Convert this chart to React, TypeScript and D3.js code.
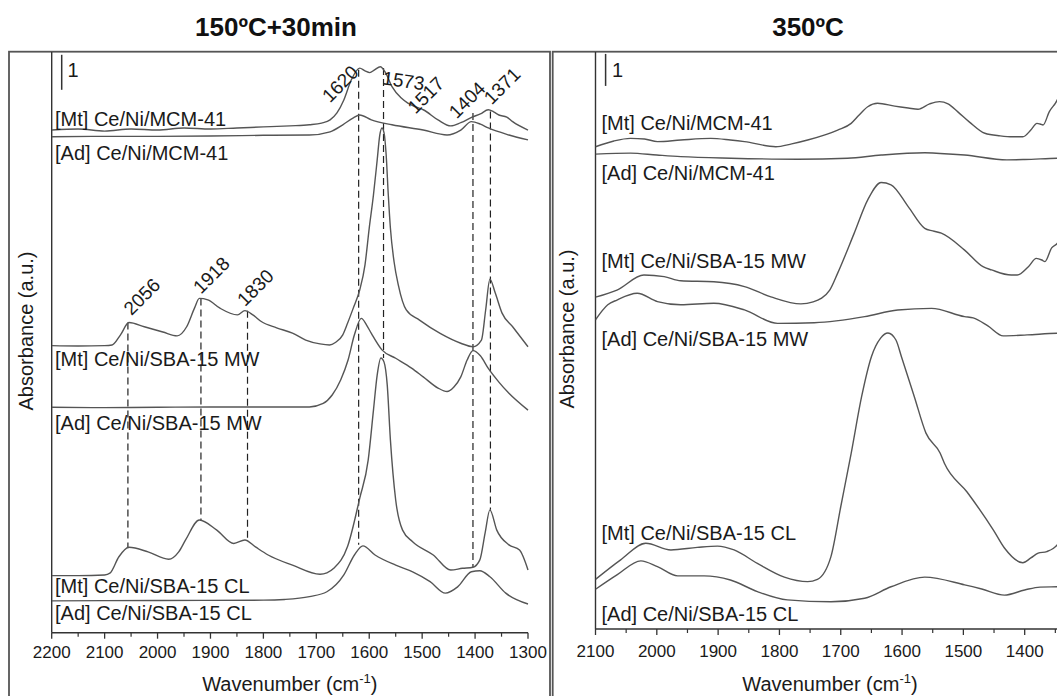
import React from 'react';
import * as d3 from 'd3';

type P = [number, number];

// ---------- titles / labels ----------
const leftTitle = '150ºC+30min';
const rightTitle = '350ºC';
const sampleLabels = [
  '[Mt] Ce/Ni/MCM-41',
  '[Ad] Ce/Ni/MCM-41',
  '[Mt] Ce/Ni/SBA-15 MW',
  '[Ad] Ce/Ni/SBA-15 MW',
  '[Mt] Ce/Ni/SBA-15 CL',
  '[Ad] Ce/Ni/SBA-15 CL',
];
const leftTicks = [2200, 2100, 2000, 1900, 1800, 1700, 1600, 1500, 1400, 1300];
const rightTicks = [2100, 2000, 1900, 1800, 1700, 1600, 1500, 1400];

// ---------- left panel (150ºC+30min): [wavenumber, absorbance offset a.u.] ----------
const leftMtMCM: P[] = [
  [2200, 14.36], [2150, 14.39], [2100, 14.33], [2050, 14.39], [2000, 14.36], [1950, 14.42],
  [1900, 14.39], [1850, 14.42], [1800, 14.45], [1750, 14.48], [1713, 14.51], [1690, 14.56],
  [1674, 14.65], [1661, 14.85], [1648, 15.22], [1634, 15.79], [1618, 16.13], [1608, 16.05],
  [1599, 16.0], [1590, 16.08], [1579, 16.17], [1570, 16.02], [1557, 15.6], [1540, 15.28],
  [1527, 15.13], [1512, 15.02], [1498, 14.94], [1470, 14.65], [1446, 14.48], [1427, 14.57],
  [1404, 14.74], [1390, 14.82], [1375, 14.94], [1365, 14.88], [1355, 14.79], [1340, 14.73],
  [1329, 14.6], [1300, 14.36],
];
const leftAdMCM: P[] = [
  [2200, 14.17], [2100, 14.18], [2000, 14.18], [1900, 14.19], [1800, 14.21], [1713, 14.22],
  [1674, 14.31], [1650, 14.51], [1630, 14.71], [1618, 14.79], [1596, 14.65], [1557, 14.51],
  [1498, 14.36], [1453, 14.22], [1427, 14.36], [1407, 14.6], [1390, 14.53], [1375, 14.42],
  [1336, 14.22], [1300, 14.08],
];
const leftMtMW: P[] = [
  [2200, 8.2], [2150, 8.19], [2100, 8.2], [2086, 8.22], [2070, 8.51], [2054, 8.86], [2025, 8.74],
  [1990, 8.59], [1963, 8.48], [1945, 8.74], [1930, 9.28], [1921, 9.55], [1905, 9.51], [1882, 9.27],
  [1849, 9.08], [1835, 9.2], [1820, 9.08], [1804, 8.89], [1775, 8.71], [1745, 8.56], [1720, 8.36],
  [1693, 8.25], [1675, 8.22], [1664, 8.29], [1650, 8.51], [1641, 8.84], [1630, 9.28], [1618, 9.79],
  [1608, 10.51], [1600, 11.56], [1592, 12.51], [1585, 13.5], [1580, 14.22], [1576, 14.42],
  [1572, 14.28], [1568, 13.65], [1564, 12.51], [1560, 11.56], [1553, 10.59], [1545, 9.93],
  [1530, 9.22], [1505, 8.93], [1466, 8.55], [1427, 8.27], [1404, 8.17], [1388, 8.36],
  [1380, 9.22], [1372, 10.1], [1362, 9.71], [1349, 9.13], [1329, 8.74], [1300, 8.17],
];
const leftAdMW: P[] = [
  [2200, 6.44], [2100, 6.43], [2000, 6.44], [1900, 6.45], [1800, 6.45], [1713, 6.45], [1687, 6.55],
  [1670, 6.79], [1654, 7.22], [1640, 7.79], [1628, 8.51], [1615, 8.98], [1605, 8.79], [1596, 8.55],
  [1576, 8.08], [1550, 7.84], [1520, 7.56], [1498, 7.31], [1470, 6.99], [1453, 6.89], [1440, 7.02],
  [1427, 7.31], [1415, 7.79], [1404, 8.06], [1390, 7.91], [1375, 7.55], [1355, 7.16], [1336, 6.84],
  [1300, 6.36],
];
const leftMtCL: P[] = [
  [2200, 1.63], [2150, 1.63], [2100, 1.65], [2090, 1.7], [2073, 2.17], [2054, 2.44], [2018, 2.31],
  [1979, 2.1], [1960, 2.31], [1947, 2.65], [1921, 3.22], [1888, 2.93], [1856, 2.55], [1835, 2.65],
  [1815, 2.45], [1791, 2.22], [1745, 1.93], [1693, 1.67], [1680, 1.71], [1667, 1.84], [1641, 2.46],
  [1618, 3.84], [1602, 4.93], [1592, 6.36], [1585, 7.36], [1578, 7.85], [1572, 7.73], [1566, 7.08],
  [1560, 5.51], [1550, 3.79], [1537, 2.93], [1518, 2.6], [1479, 2.22], [1446, 1.79], [1424, 1.84],
  [1404, 1.87], [1391, 2.08], [1381, 2.85], [1372, 3.51], [1359, 2.93], [1336, 2.51], [1316, 2.36],
  [1300, 1.79],
];
const leftAdCL: P[] = [
  [2200, 0.91], [2000, 0.92], [1800, 0.93], [1760, 0.95], [1713, 1.03], [1680, 1.17], [1648, 1.65],
  [1628, 2.22], [1612, 2.48], [1589, 2.22], [1550, 1.93], [1518, 1.74], [1485, 1.46], [1456, 1.13],
  [1433, 1.31], [1407, 1.74], [1391, 1.77], [1372, 1.6], [1342, 1.13], [1300, 0.82],
];

// dashed peak markers: wavenumber, top & bottom (a.u.)
const peakWave = [2056, 1918, 1830, 1620, 1573, 1404, 1371];
const peakTop = [8.86, 9.55, 9.2, 16.08, 16.13, 14.85, 14.89];
const peakBottom = [2.41, 3.22, 2.65, 2.51, 7.85, 1.88, 3.51];
// annotation labels
const annWave = [2056, 1918, 1830, 1620, 1573, 1517, 1404, 1371];
const annLevel = [8.86, 9.55, 9.2, 16.08, 16.13, 15.09, 14.85, 14.89];

// ---------- right panel (350ºC) ----------
const rightMtMCM: P[] = [
  [2100, 15.07], [2070, 15.25], [2043, 15.33], [2020, 15.31], [1999, 15.23], [1961, 15.28],
  [1912, 15.33], [1880, 15.28], [1857, 15.23], [1806, 15.07], [1780, 15.16], [1754, 15.28],
  [1705, 15.59], [1683, 15.8], [1670, 16.06], [1656, 16.32], [1640, 16.43], [1612, 16.34],
  [1590, 16.28], [1574, 16.24], [1555, 16.41], [1539, 16.48], [1525, 16.41], [1509, 16.16],
  [1490, 15.84], [1465, 15.49], [1440, 15.41], [1420, 15.38], [1403, 15.38], [1390, 15.59],
  [1380, 15.8], [1375, 15.78], [1370, 15.75], [1360, 16.16], [1347, 16.53], [1335, 17.16],
  [1320, 17.94],
];
const rightAdMCM: P[] = [
  [2100, 14.84], [2043, 14.87], [2000, 14.81], [1961, 14.76], [1879, 14.71], [1770, 14.68],
  [1689, 14.71], [1634, 14.81], [1563, 14.88], [1538, 14.86], [1498, 14.81], [1429, 14.66],
  [1400, 14.67], [1347, 14.71], [1300, 14.72],
];
const rightMtMW: P[] = [
  [2100, 10.37], [2065, 10.59], [2021, 11.06], [1988, 11.01], [1961, 10.88], [1907, 10.85],
  [1857, 10.7], [1814, 10.38], [1765, 10.16], [1745, 10.22], [1732, 10.33], [1718, 10.59],
  [1705, 11.12], [1678, 12.37], [1656, 13.41], [1634, 13.95], [1618, 13.88], [1590, 13.2],
  [1563, 12.52], [1550, 12.44], [1536, 12.37], [1498, 11.84], [1468, 11.32], [1454, 11.22],
  [1422, 11.06], [1412, 11.06], [1394, 11.32], [1381, 11.58], [1372, 11.53], [1367, 11.48],
  [1356, 11.91], [1347, 12.05], [1335, 12.53], [1320, 13.25],
];
const rightAdMW: P[] = [
  [2100, 9.66], [2080, 10.13], [2065, 10.28], [2032, 10.49], [1999, 10.23], [1961, 10.13],
  [1907, 10.18], [1857, 9.97], [1803, 9.55], [1743, 9.57], [1661, 9.76], [1607, 9.97],
  [1552, 10.02], [1498, 9.76], [1484, 9.72], [1460, 9.47], [1435, 9.16], [1396, 9.19],
  [1347, 9.24], [1300, 9.25],
];
const rightMtCL: P[] = [
  [2100, 1.55], [2059, 2.16], [2018, 2.68], [1977, 2.47], [1934, 2.55], [1901, 2.59],
  [1874, 2.47], [1836, 2.05], [1792, 1.62], [1754, 1.48], [1738, 1.55], [1716, 2.26],
  [1700, 3.82], [1683, 5.49], [1666, 7.26], [1650, 8.51], [1635, 9.09], [1623, 9.25],
  [1610, 9.03], [1601, 8.51], [1580, 7.26], [1561, 6.12], [1538, 5.5], [1531, 5.18],
  [1494, 4.28], [1451, 3.09], [1433, 2.53], [1403, 2.07], [1390, 2.22], [1378, 2.37],
  [1364, 2.42], [1347, 2.63], [1330, 3.25], [1310, 4.03],
];
const rightAdCL: P[] = [
  [2100, 1.24], [2065, 1.69], [2026, 2.13], [1999, 1.95], [1966, 1.66], [1923, 1.66],
  [1880, 1.53], [1836, 1.17], [1787, 0.91], [1716, 0.85], [1661, 0.96], [1618, 1.32],
  [1563, 1.62], [1498, 1.38], [1470, 1.25], [1433, 1.06], [1400, 1.22], [1375, 1.31],
  [1347, 1.32], [1300, 1.34],
];

// ---------- layout ----------
const W = 1057;
const H = 696;
const FONT = "'Liberation Sans', Arial, Helvetica, sans-serif";
const LINE = '#555';
const TXT = '#1a1a1a';

const xL = d3.scaleLinear().domain([2200, 1300]).range([51.7, 528]);
const yL = d3.scaleLinear().domain([0, 16.59]).range([632.7, 52]);
const xR = d3.scaleLinear().domain([2100, 1300]).range([595.5, 1086]);
const yR = d3.scaleLinear().domain([0, 18.03]).range([629, 52]);

const leftSeries = [leftMtMCM, leftAdMCM, leftMtMW, leftAdMW, leftMtCL, leftAdCL];
const rightSeries = [rightMtMCM, rightAdMCM, rightMtMW, rightAdMW, rightMtCL, rightAdCL];
const leftLabelY = [126, 160, 366, 430, 593, 620];
const rightLabelY = [130, 180, 268, 346, 540, 621];
// annotation offsets (px) relative to marker top, and rotation
const annDx = [13.8, 10.4, 7.8, -18.5, 20, 12.7, -6, 11.6];
const annDy = [-26, -23.3, -23.2, 14, 12.5, -9.5, -13, -25.7];
const annRot = [-45, -45, -45, -45, 8, -45, -45, -45];

function pathOf(data: P[], x: d3.ScaleLinear<number, number>, y: d3.ScaleLinear<number, number>) {
  const sorted = [...data].sort((a, b) => b[0] - a[0]);
  const gen = d3
    .line<P>()
    .x((d) => x(d[0]))
    .y((d) => y(d[1]))
    .curve(d3.curveMonotoneX);
  return gen(sorted) || '';
}

function Axis({ x, y0, ticks, labelDy, maxX }: { x: d3.ScaleLinear<number, number>; y0: number; ticks: number[]; labelDy: number; maxX: number }) {
  const dom = x.domain();
  const minor: number[] = [];
  for (let t = dom[0] - 50; t > dom[1]; t -= 100) minor.push(t);
  return (
    <g>
      <line x1={x(dom[0])} x2={Math.min(x(dom[1]), maxX)} y1={y0} y2={y0} stroke="#333" strokeWidth={1.4} />
      {ticks.map((t) => (
        <g key={t}>
          <line x1={x(t)} x2={x(t)} y1={y0} y2={y0 + 6} stroke="#333" strokeWidth={1.3} />
          <text x={x(t)} y={y0 + labelDy} textAnchor="middle" fontSize={17} fontFamily={FONT} fill={TXT}>
            {t}
          </text>
        </g>
      ))}
      {x(dom[1]) <= maxX ? null : null}
      {minor.map((t) => (
        <line key={'m' + t} x1={x(t)} x2={x(t)} y1={y0} y2={y0 + 4} stroke="#333" strokeWidth={1.2} />
      ))}
    </g>
  );
}

export default function App() {
  const yl0 = yL(0);
  const yr0 = yR(0);
  return (
    <svg
      width={W}
      height={H}
      viewBox={`0 0 ${W} ${H}`}
      style={{ position: 'fixed', left: 0, top: 0, background: '#fff' }}
    >
      <defs>
        <clipPath id="clipL">
          <rect x={xL(2200)} y={yL(16.59)} width={xL(1300) - xL(2200) + 2} height={yl0 - yL(16.59)} />
        </clipPath>
        <clipPath id="clipR">
          <rect x={xR(2100)} y={yR(18.03)} width={xR(1300) - xR(2100)} height={yr0 - yR(18.03)} />
        </clipPath>
      </defs>
      <rect x={0} y={0} width={W} height={H} fill="#fff" />

      {/* titles */}
      <text x={276} y={36} textAnchor="middle" fontSize={26} fontWeight="bold" fontFamily={FONT} fill="#111">
        {leftTitle}
      </text>
      <text x={808} y={36} textAnchor="middle" fontSize={26} fontWeight="bold" fontFamily={FONT} fill="#111">
        {rightTitle}
      </text>

      {/* panel frames */}
      <rect x={9} y={51.7} width={541} height={700} fill="none" stroke="#555" strokeWidth={1.8} />
      <rect x={552.7} y={51.7} width={600} height={700} fill="none" stroke="#555" strokeWidth={1.8} />

      {/* ---------------- left panel ---------------- */}
      <line x1={xL(2200)} x2={xL(2200)} y1={yL(16.59)} y2={yl0} stroke="#333" strokeWidth={1.4} />
      <Axis x={xL} y0={yl0} ticks={leftTicks} labelDy={25.3} maxX={W} />
      {/* scale bar */}
      <line x1={61.7} x2={61.7} y1={yL(15.51)} y2={yL(16.51)} stroke="#333" strokeWidth={1.5} />
      <text x={67.5} y={yL(15.51) - 12.5} fontSize={20} fontFamily={FONT} fill={TXT}>1</text>

      {/* dashed markers */}
      {peakWave.map((w, i) => (
        <line
          key={'pk' + w}
          x1={xL(w)}
          x2={xL(w)}
          y1={yL(peakTop[i])}
          y2={yL(peakBottom[i])}
          stroke="#222"
          strokeWidth={1.2}
          strokeDasharray="7,4"
        />
      ))}

      <g clipPath="url(#clipL)">
        {leftSeries.map((s, i) => (
          <path key={'l' + i} d={pathOf(s, xL, yL)} fill="none" stroke={LINE} strokeWidth={1.4} />
        ))}
      </g>

      {/* annotations */}
      {annWave.map((w, i) => (
        <text
          key={'an' + i}
          transform={`translate(${xL(w) + annDx[i]},${yL(annLevel[i]) + annDy[i]}) rotate(${annRot[i]})`}
          textAnchor="middle"
          dy="0.35em"
          fontSize={19}
          fontFamily={FONT}
          fill={TXT}
        >
          {w}
        </text>
      ))}

      {sampleLabels.map((l, i) => (
        <text key={'ll' + i} x={55} y={leftLabelY[i]} fontSize={20} fontFamily={FONT} fill={TXT}>
          {l}
        </text>
      ))}

      <text transform={`translate(26,331) rotate(-90)`} textAnchor="middle" dy="0.35em" fontSize={20} fontFamily={FONT} fill={TXT}>
        Absorbance (a.u.)
      </text>
      <text x={(xL(2200) + xL(1300)) / 2} y={691} textAnchor="middle" fontSize={20} fontFamily={FONT} fill={TXT}>
        Wavenumber (cm
        <tspan dy={-8} fontSize={13}>-1</tspan>
        <tspan dy={8}>)</tspan>
      </text>

      {/* ---------------- right panel ---------------- */}
      <line x1={xR(2100)} x2={xR(2100)} y1={yR(18.03)} y2={yr0} stroke="#333" strokeWidth={1.4} />
      <Axis x={xR} y0={yr0} ticks={rightTicks} labelDy={28} maxX={W + 40} />
      <line x1={605.6} x2={605.6} y1={yR(16.97)} y2={yR(17.97)} stroke="#333" strokeWidth={1.5} />
      <text x={612} y={yR(16.97) - 9} fontSize={20} fontFamily={FONT} fill={TXT}>1</text>

      <g clipPath="url(#clipR)">
        {rightSeries.map((s, i) => (
          <path key={'r' + i} d={pathOf(s, xR, yR)} fill="none" stroke={LINE} strokeWidth={1.4} />
        ))}
      </g>

      {sampleLabels.map((l, i) => (
        <text key={'rl' + i} x={601.5} y={rightLabelY[i]} fontSize={20} fontFamily={FONT} fill={TXT}>
          {l}
        </text>
      ))}

      <text transform={`translate(566.7,329) rotate(-90)`} textAnchor="middle" dy="0.35em" fontSize={20} fontFamily={FONT} fill={TXT}>
        Absorbance (a.u.)
      </text>
      <text x={830} y={691} textAnchor="middle" fontSize={20} fontFamily={FONT} fill={TXT}>
        Wavenumber (cm
        <tspan dy={-8} fontSize={13}>-1</tspan>
        <tspan dy={8}>)</tspan>
      </text>
    </svg>
  );
}
